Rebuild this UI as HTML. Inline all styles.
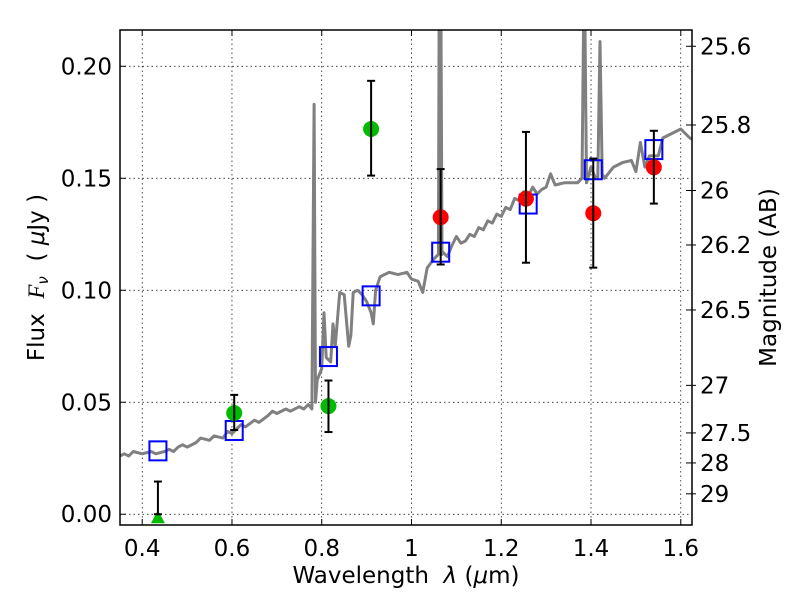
<!DOCTYPE html>
<html><head><meta charset="utf-8"><style>
html,body{margin:0;padding:0;background:#fff;}
svg{display:block;font-family:"DejaVu Sans","Liberation Sans",sans-serif;}
</style></head><body>
<svg id="chart" width="800" height="600"></svg>
<script>
const xTicks=[0.4,0.6,0.8,1.0,1.2,1.4,1.6];
const xTickLabels=["0.4","0.6","0.8","1","1.2","1.4","1.6"];
const yTicks=[0,0.05,0.10,0.15,0.20];
const yTickLabels=["0.00","0.05","0.10","0.15","0.20"];
const magTicks=[25.6,25.8,26,26.2,26.5,27,27.5,28,29];
const magTickLabels=["25.6","25.8","26","26.2","26.5","27","27.5","28","29"];
const specWave=[0.35,0.36,0.37,0.38,0.40,0.42,0.43,0.45,0.46,0.47,0.48,0.49,0.50,0.52,0.53,0.55,0.56,0.58,0.59,0.60,0.62,0.63,0.65,0.66,0.68,0.69,0.70,0.72,0.73,0.75,0.76,0.77,0.778,0.783,0.786,0.79,0.80,0.805,0.81,0.82,0.825,0.83,0.84,0.85,0.86,0.865,0.87,0.88,0.89,0.90,0.91,0.915,0.92,0.93,0.95,0.97,0.99,1.0,1.015,1.025,1.035,1.05,1.06,1.062,1.065,1.068,1.07,1.08,1.09,1.10,1.11,1.12,1.13,1.14,1.15,1.16,1.17,1.18,1.19,1.20,1.21,1.22,1.23,1.24,1.25,1.26,1.27,1.28,1.29,1.30,1.31,1.32,1.34,1.37,1.38,1.385,1.39,1.40,1.41,1.415,1.42,1.425,1.43,1.45,1.47,1.49,1.50,1.51,1.52,1.53,1.55,1.56,1.58,1.60,1.62,1.63];
const specFlux=[0.026,0.027,0.026,0.028,0.027,0.028,0.027,0.028,0.029,0.028,0.030,0.031,0.030,0.032,0.034,0.033,0.035,0.034,0.037,0.036,0.040,0.039,0.042,0.041,0.044,0.046,0.045,0.047,0.046,0.048,0.047,0.049,0.047,0.183,0.05,0.060,0.065,0.090,0.070,0.068,0.085,0.075,0.099,0.098,0.075,0.080,0.099,0.100,0.098,0.095,0.090,0.085,0.100,0.106,0.108,0.107,0.108,0.105,0.104,0.099,0.110,0.114,0.116,0.25,0.25,0.116,0.117,0.115,0.120,0.124,0.121,0.122,0.125,0.124,0.128,0.127,0.131,0.130,0.134,0.133,0.137,0.136,0.141,0.140,0.144,0.142,0.146,0.143,0.145,0.146,0.152,0.147,0.148,0.148,0.150,0.25,0.148,0.155,0.150,0.150,0.211,0.152,0.150,0.155,0.157,0.158,0.153,0.166,0.155,0.160,0.160,0.168,0.170,0.172,0.168,0.167];
const modelWave=[0.435,0.605,0.815,0.91,1.065,1.26,1.405,1.54];
const modelFlux=[0.0283,0.0374,0.0704,0.0975,0.117,0.1385,0.1538,0.1628];
const greenWave=[0.605,0.815,0.91];
const greenFlux=[0.0452,0.0483,0.172];
const greenLo=[0.0376,0.0367,0.1512];
const greenHi=[0.0533,0.0597,0.1935];
const redWave=[1.065,1.255,1.405,1.54];
const redFlux=[0.1326,0.1409,0.1344,0.1549];
const redLo=[0.1115,0.1123,0.1101,0.1387];
const redHi=[0.1541,0.1707,0.1588,0.1712];
const limWave=[0.435];
const limFlux=[0.0];
const limHi=[0.0146];

const L=120,R=692,T=30,B=525,XMIN=0.3505,XMAX=1.625,YMIN=-0.0048,YMAX=0.2162;
const sx=v=>L+(v-XMIN)/(XMAX-XMIN)*(R-L);
const sy=v=>B-(v-YMIN)/(YMAX-YMIN)*(B-T);
const magToFlux=m=>Math.pow(10,(23.9-m)/2.5);
const NS="http://www.w3.org/2000/svg";
const svg=document.getElementById('chart');
function mk(tag,attrs,parent){const e=document.createElementNS(NS,tag);for(const k in attrs)e.setAttribute(k,attrs[k]);(parent||svg).appendChild(e);return e;}
const defs=mk('defs',{});const cp=mk('clipPath',{id:'clip'},defs);mk('rect',{x:L,y:T,width:R-L,height:B-T},cp);

const grid=mk('g',{});


xTicks.forEach(v=>{mk('line',{x1:sx(v),x2:sx(v),y1:T,y2:B,stroke:'#000','stroke-width':0.7,'stroke-dasharray':'1.5,3'},grid);});
yTicks.forEach(v=>{mk('line',{x1:L,x2:R,y1:sy(v),y2:sy(v),stroke:'#000','stroke-width':0.7,'stroke-dasharray':'1.5,3'},grid);});

const plot=mk('g',{'clip-path':'url(#clip)'});
let d='';specWave.forEach((w,i)=>{d+=(i?'L':'M')+sx(w).toFixed(1)+','+sy(specFlux[i]).toFixed(1);});
const sp=mk('path',{d:d,fill:'none',stroke:'#808080','stroke-width':3,'stroke-linejoin':'round'},plot);



modelWave.forEach((w,i)=>{const r=mk('rect',{x:sx(w)-8.5,y:sy(modelFlux[i])-9.5,width:17,height:19,fill:'none',stroke:'#0000ff','stroke-width':2},plot);

});

function errbar(x,lo,hi){const g=mk('g',{stroke:'#000','stroke-width':2},plot);mk('line',{x1:x,x2:x,y1:sy(lo),y2:sy(hi)},g);mk('line',{x1:x-4,x2:x+4,y1:sy(lo),y2:sy(lo)},g);mk('line',{x1:x-4,x2:x+4,y1:sy(hi),y2:sy(hi)},g);return g;}
greenWave.forEach((w,i)=>{const c=mk('circle',{cx:sx(w),cy:sy(greenFlux[i]),r:8,fill:'#00bb00'},plot);


const e=errbar(sx(w),greenLo[i],greenHi[i]);

});
redWave.forEach((w,i)=>{const c=mk('circle',{cx:sx(w),cy:sy(redFlux[i]),r:8,fill:'#ff0000'},plot);


const e=errbar(sx(w),redLo[i],redHi[i]);

});
limWave.forEach((w,i)=>{const x=sx(w),y=sy(limFlux[i]);
const t=mk('polygon',{points:`${x-7},${y+9} ${x+7},${y+9} ${x},${y-4}`,fill:'#00bb00'},plot);


const e=errbar(x,limFlux[i],limHi[i]);

});

const frame=mk('rect',{x:L,y:T,width:R-L,height:B-T,fill:'none',stroke:'#000','stroke-width':1.5});



const ax=mk('g',{'font-size':23,fill:'#000'});
xTicks.forEach((v,i)=>{const x=sx(v);mk('line',{x1:x,x2:x,y1:B,y2:B-6,stroke:'#000'},ax);mk('line',{x1:x,x2:x,y1:T,y2:T+6,stroke:'#000'},ax);
const t=mk('text',{x:x,y:B+31,'text-anchor':'middle'},ax);t.textContent=xTickLabels[i];

});
yTicks.forEach((v,i)=>{const y=sy(v);mk('line',{x1:L,x2:L+6,y1:y,y2:y,stroke:'#000'},ax);
const t=mk('text',{x:L-8,y:y+8,'text-anchor':'end'},ax);t.textContent=yTickLabels[i];

});
magTicks.forEach((m,i)=>{const y=sy(magToFlux(m));mk('line',{x1:R-6,x2:R+4,y1:y,y2:y,stroke:'#000'},ax);
const t=mk('text',{x:R+8,y:y+8,'text-anchor':'start'},ax);t.textContent=magTickLabels[i];

});

const xl=mk('text',{x:(L+R)/2,y:583,'text-anchor':'middle','font-size':23});
xl.innerHTML='Wavelength&#160;&#160;<tspan font-style="italic">λ</tspan> (<tspan font-style="italic">μ</tspan>m)';


const yl=mk('text',{x:0,y:0,'text-anchor':'middle','font-size':23,transform:`translate(44,${(T+B)/2}) rotate(-90)`});
yl.innerHTML='Flux&#160;&#160;<tspan font-style="italic" font-family="Liberation Serif,serif">F</tspan><tspan font-style="italic" font-size="15" dy="4">ν</tspan><tspan dy="-4">&#160;&#160;( </tspan><tspan font-style="italic">μ</tspan>Jy )';


const rl=mk('text',{x:0,y:0,'text-anchor':'middle','font-size':23,transform:`translate(776,${(T+B)/2}) rotate(-90)`});
rl.textContent='Magnitude (AB)';


</script>
</body></html>
